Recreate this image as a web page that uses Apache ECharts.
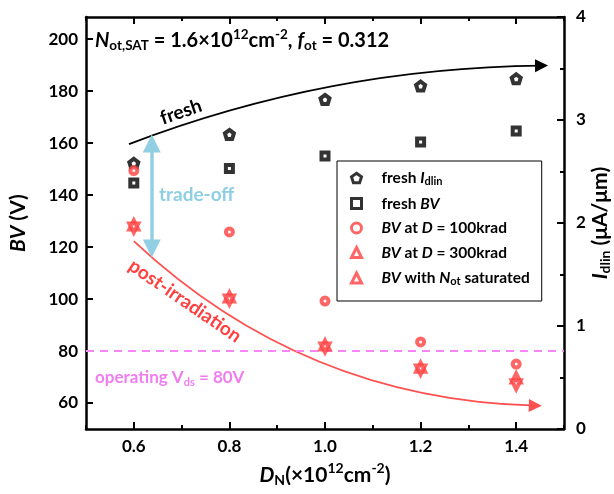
<!DOCTYPE html>
<html><head><meta charset="utf-8">
<script src="https://cdn.jsdelivr.net/npm/echarts@6/dist/echarts.min.js"></script>
<style>html,body{margin:0;padding:0;background:#fff}#c{width:614px;height:494px}</style>
</head><body><div id="c"></div>
<script>
// ---- data ----
const dn = [0.6, 0.8, 1.0, 1.2, 1.4];
const freshIdlin = [2.58, 2.86, 3.20, 3.33, 3.40];
const freshBV = [144.6, 150.2, 155.0, 160.4, 164.6];
const bv100krad = [149.4, 125.8, 99.2, 83.5, 75.0];
const bv300krad = [128.5, 100.8, 82.3, 73.8, 69.6];
const bvSaturated = [127.3, 99.6, 81.2, 72.7, 67.0];
const xTickLabels = [0.6, 0.8, 1.0, 1.2, 1.4];
const yLeftTicks = [60, 80, 100, 120, 140, 160, 180, 200];
const operatingVds = 80;
const freshArrow = [[0.590, 159.6], [1.453, 189.8]];
const postArrow = [[0.600, 122.3], [1.440, 59.0]];
const tradeOffArrow = [[0.6375, 159.8], [0.6375, 119.4]];

const FONT = 'Lato';
const RED = '#ff4040';
function pts(ys) { return dn.map((x, i) => [x, ys[i]]); }
function rich(size, subSize, subPad, supPad, color) {
  color = color || '#000';
  const lh = Math.round(size * 1.25);
  const base = {fontFamily: FONT, fontWeight: 'bold', color: color, fill: color, lineHeight: lh};
  return {
    n: Object.assign({fontSize: size}, base),
    i: Object.assign({fontSize: size, fontStyle: 'italic'}, base),
    sub: Object.assign({fontSize: subSize, padding: [subPad, 0, 0, 0]}, base),
    sup: Object.assign({fontSize: subSize, padding: [0, 0, supPad, 0]}, base)
  };
}
const legendText = {
  'fresh Idlin': '{n|fresh }{i|I}{sub|dlin}',
  'fresh BV': '{n|fresh }{i|BV}',
  'BV 100krad': '{i|BV}{n| at }{i|D}{n| = 100krad}',
  'BV 300krad': '{i|BV}{n| at }{i|D}{n| = 300krad}',
  'BV saturated': '{i|BV}{n| with }{i|N}{sub|ot}{n| saturated}'
};
const pentagon = 'path://M0,-10 L9.51,-3.09 L5.88,8.09 L-5.88,8.09 L-9.51,-3.09 Z';
const tickLbl = {fontFamily: FONT, fontWeight: 'bold', fontSize: 17, color: '#000'};
const markerBorder = 4;

const chart = echarts.init(document.getElementById('c'), null, {renderer: 'canvas'});
chart.setOption({
  animation: false,
  backgroundColor: '#fff',
  grid: {left: 86, right: 50, top: 17, bottom: 65, containLabel: false, outerBoundsMode: 'none'},
  xAxis: [{
    type: 'value', position: 'bottom', min: 0.5, max: 1.5, interval: 0.2,
    axisLine: {show: true, lineStyle: {color: '#000', width: 2.5}},
    axisTick: {show: true, inside: true, length: 4, lineStyle: {color: '#000', width: 2}},
    minorTick: {show: true, splitNumber: 2, length: 7, lineStyle: {color: '#000', width: 2}},
    axisLabel: Object.assign({customValues: xTickLabels, formatter: v => v.toFixed(1), margin: 9}, tickLbl),
    splitLine: {show: false},
    name: '{i|D}{sub|N}{n|(×10}{sup|12}{n|cm}{sup|-2}{n|)}',
    nameLocation: 'middle', nameGap: 33, nameMoveOverlap: false,
    nameTextStyle: {rich: rich(21, 14, 10, 14)}
  }, {
    type: 'value', position: 'top', min: 0.5, max: 1.5, interval: 0.2,
    axisLine: {show: true, lineStyle: {color: '#000', width: 2.5}},
    axisTick: {show: true, inside: true, length: 4, lineStyle: {color: '#000', width: 2}},
    minorTick: {show: true, splitNumber: 2, length: 7, lineStyle: {color: '#000', width: 2}},
    axisLabel: {show: false}, splitLine: {show: false}
  }],
  yAxis: [{
    type: 'value', position: 'left', min: 50, max: 208.5,
    axisLine: {show: true, lineStyle: {color: '#000', width: 2.5}},
    axisTick: {show: true, inside: true, length: 7, customValues: yLeftTicks, lineStyle: {color: '#000', width: 2}},
    axisLabel: Object.assign({customValues: yLeftTicks, margin: 8}, tickLbl),
    splitLine: {show: false},
    name: '{i|BV}{n| (V)}', nameLocation: 'middle', nameGap: 55, nameMoveOverlap: false,
    nameTextStyle: {rich: rich(21, 14, 10, 14)}
  }, {
    type: 'value', position: 'right', min: 0, max: 4, interval: 1,
    axisLine: {show: true, lineStyle: {color: '#000', width: 2.5}},
    axisTick: {show: true, inside: true, length: 7, lineStyle: {color: '#000', width: 2}},
    minorTick: {show: true, splitNumber: 2, length: 4, lineStyle: {color: '#000', width: 2}},
    axisLabel: Object.assign({margin: 12}, tickLbl),
    splitLine: {show: false},
    name: '{i|I}{sub|dlin}{n| (μA/μm)}', nameLocation: 'middle', nameGap: 23, nameMoveOverlap: false,
    nameTextStyle: {rich: rich(21, 14, 10, 14)}
  }],
  legend: {
    left: 337, top: 161, orient: 'vertical',
    padding: [8, 12, 14, 13], itemGap: 8.5,
    itemWidth: 10, itemHeight: 10,
    borderColor: '#000', borderWidth: 1, backgroundColor: '#fff',
    selectedMode: false,
    itemStyle: {borderWidth: 3},
    data: [
      {name: 'fresh Idlin'}, {name: 'fresh BV'}, {name: 'BV 100krad'},
      {name: 'BV 300krad'}, {name: 'BV saturated', symbolRotate: 180}
    ],
    formatter: name => legendText[name],
    textStyle: {padding: [0, 0, 0, 15], rich: rich(15.5, 11, 7, 10)}
  },
  series: [
    {
      name: 'fresh Idlin', type: 'scatter', yAxisIndex: 1, data: pts(freshIdlin),
      symbol: pentagon, symbolSize: 9, z: 5,
      itemStyle: {color: '#fff', borderColor: '#000', borderWidth: markerBorder}
    },
    {
      name: 'fresh BV', type: 'scatter', data: pts(freshBV),
      symbol: 'rect', symbolSize: 7, z: 5,
      itemStyle: {color: '#fff', borderColor: '#000', borderWidth: markerBorder},
      markLine: {
        silent: true, symbol: 'none', label: {show: false},
        lineStyle: {color: '#fa84fa', width: 1.8, type: [8, 6]},
        data: [{yAxis: operatingVds}]
      }
    },
    {
      name: 'BV 100krad', type: 'scatter', data: pts(bv100krad),
      symbol: 'circle', symbolSize: 7, z: 5,
      itemStyle: {color: '#fff', borderColor: RED, borderWidth: markerBorder}
    },
    {
      name: 'BV 300krad', type: 'scatter', data: pts(bv300krad),
      symbol: 'triangle', symbolSize: 9, z: 5,
      itemStyle: {color: '#fff', borderColor: RED, borderWidth: markerBorder}
    },
    {
      name: 'BV saturated', type: 'scatter', data: pts(bvSaturated),
      symbol: 'triangle', symbolRotate: 180, symbolSize: 9, z: 6,
      itemStyle: {color: '#fff', borderColor: RED, borderWidth: markerBorder}
    },
    {
      type: 'lines', coordinateSystem: 'cartesian2d', silent: true, z: 3,
      symbol: ['none', 'triangle'], symbolSize: 13,
      lineStyle: {color: '#000', width: 1.8, curveness: 0.09, opacity: 1},
      data: [{coords: freshArrow}]
    },
    {
      type: 'lines', coordinateSystem: 'cartesian2d', silent: true, z: 3,
      symbol: ['none', 'triangle'], symbolSize: 13,
      lineStyle: {color: '#ff5050', width: 1.8, curveness: -0.19, opacity: 1},
      data: [{coords: postArrow}]
    },
    {
      type: 'lines', coordinateSystem: 'cartesian2d', silent: true, z: 3,
      symbol: ['triangle', 'triangle'], symbolSize: 18,
      lineStyle: {color: '#93cfe2', width: 3.5, opacity: 1},
      data: [{coords: tradeOffArrow}]
    }
  ],
  graphic: [
    {type: 'text', x: 95, y: 41, z: 10,
     style: {text: '{i|N}{sub|ot,SAT}{n| = 1.6×10}{sup|12}{n|cm}{sup|-2}{n|, }{i|f}{sub|ot}{n| = 0.312}',
             rich: rich(20, 13.5, 10, 12), verticalAlign: 'middle', align: 'left'}},
    {type: 'text', x: 181, y: 112, rotation: 0.33, z: 10,
     style: {text: 'fresh', fontFamily: FONT, fontWeight: 'bold', fontSize: 19, fill: '#000', align: 'center', verticalAlign: 'middle'}},
    {type: 'text', x: 159, y: 195, z: 10,
     style: {text: 'trade-off', fontFamily: FONT, fontWeight: 'bold', fontSize: 19, fill: '#8ecfe2', align: 'left', verticalAlign: 'middle'}},
    {type: 'text', x: 185, y: 301, rotation: -0.6, z: 10,
     style: {text: 'post-irradiation', fontFamily: FONT, fontWeight: 'bold', fontSize: 19, fill: RED, align: 'center', verticalAlign: 'middle'}},
    {type: 'text', x: 95, y: 378, z: 10,
     style: {text: '{n|operating V}{sub|ds}{n| = 80V}', rich: rich(17, 11, 8, 10, '#f07ef0'), align: 'left', verticalAlign: 'middle'}}
  ]
});
</script>
</body></html>
